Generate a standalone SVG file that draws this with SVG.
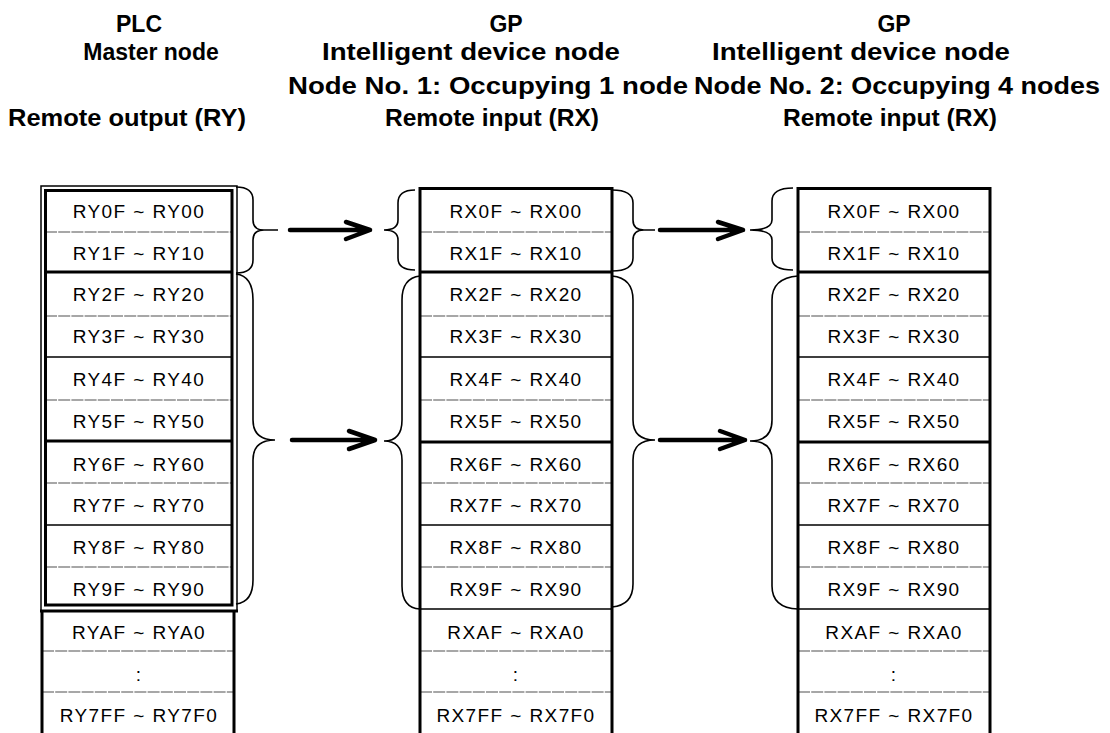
<svg xmlns="http://www.w3.org/2000/svg" width="1110" height="733" viewBox="0 0 1110 733">
<defs>
<style>
.t{font-family:"Liberation Sans",Arial,sans-serif;font-size:19px;letter-spacing:1.4px;text-anchor:middle;fill:#000}
.h{font-family:"Liberation Sans",Arial,sans-serif;font-size:23px;font-weight:bold;text-anchor:middle;fill:#000}
.thick{stroke:#000;stroke-width:3;fill:none}
.thin{stroke:#000;stroke-width:1.5;fill:none}
.dot{stroke:#8a8a8a;stroke-width:1.6;stroke-dasharray:12 1.2;fill:none}
.br{stroke:#000;stroke-width:1.6;fill:none}
.ar{stroke:#000;stroke-width:4.5;fill:none;stroke-linecap:round;stroke-linejoin:round}
</style>
</defs>
<rect width="1110" height="733" fill="#fff"/>

<g id="titles">
<text class="h" x="139" y="32">PLC</text>
<text class="h" x="151" y="60">Master node</text>
<text class="h" x="127" y="126" textLength="238" lengthAdjust="spacingAndGlyphs">Remote output (RY)</text>
<text class="h" x="506" y="32">GP</text>
<text class="h" x="471" y="60" textLength="298" lengthAdjust="spacingAndGlyphs">Intelligent device node</text>
<text class="h" x="488" y="94" textLength="400" lengthAdjust="spacingAndGlyphs">Node No. 1: Occupying 1 node</text>
<text class="h" x="492" y="126" textLength="214" lengthAdjust="spacingAndGlyphs">Remote input (RX)</text>
<text class="h" x="894" y="32">GP</text>
<text class="h" x="861" y="60" textLength="298" lengthAdjust="spacingAndGlyphs">Intelligent device node</text>
<text class="h" x="897" y="94" textLength="406" lengthAdjust="spacingAndGlyphs">Node No. 2: Occupying 4 nodes</text>
<text class="h" x="890" y="126" textLength="214" lengthAdjust="spacingAndGlyphs">Remote input (RX)</text>
</g>

<g id="plc-table">
<path class="dot" d="M45 232H232M45 316H232M45 400H232M45 483H232M45 567H232M42 651H234M42 692H234"/>
<path class="thick" d="M45 272H232M45 441H232"/>
<path class="thin" d="M45 357H232M45 525H232"/>
<rect class="thin" x="41" y="186" width="196" height="425"/>
<rect class="thick" x="45.5" y="190.5" width="186.5" height="414.5"/>
<path class="thick" d="M40 611H238M42 611V733M234 611V733"/>
<text class="t" x="139" y="218">RY0F ~ RY00</text>
<text class="t" x="139" y="260">RY1F ~ RY10</text>
<text class="t" x="139" y="301">RY2F ~ RY20</text>
<text class="t" x="139" y="343">RY3F ~ RY30</text>
<text class="t" x="139" y="386">RY4F ~ RY40</text>
<text class="t" x="139" y="428">RY5F ~ RY50</text>
<text class="t" x="139" y="471">RY6F ~ RY60</text>
<text class="t" x="139" y="512">RY7F ~ RY70</text>
<text class="t" x="139" y="554">RY8F ~ RY80</text>
<text class="t" x="139" y="596">RY9F ~ RY90</text>
<text class="t" x="139" y="639">RYAF ~ RYA0</text>
<text class="t" x="139" y="681">:</text>
<text class="t" x="139" y="722">RY7FF ~ RY7F0</text>
</g>

<g id="gp1-table">
<path class="dot" d="M420 232H612M420 316H612M420 400H612M420 483H612M420 567H612M420 651H612M420 692H612"/>
<path class="thick" d="M420 272H612M420 442H612"/>
<path class="thin" d="M420 357H612M420 525H612M420 609H612"/>
<path class="thick" d="M420 733V188.5H612V733"/>
<text class="t" x="516" y="218">RX0F ~ RX00</text>
<text class="t" x="516" y="260">RX1F ~ RX10</text>
<text class="t" x="516" y="301">RX2F ~ RX20</text>
<text class="t" x="516" y="343">RX3F ~ RX30</text>
<text class="t" x="516" y="386">RX4F ~ RX40</text>
<text class="t" x="516" y="428">RX5F ~ RX50</text>
<text class="t" x="516" y="471">RX6F ~ RX60</text>
<text class="t" x="516" y="512">RX7F ~ RX70</text>
<text class="t" x="516" y="554">RX8F ~ RX80</text>
<text class="t" x="516" y="596">RX9F ~ RX90</text>
<text class="t" x="516" y="639">RXAF ~ RXA0</text>
<text class="t" x="516" y="681">:</text>
<text class="t" x="516" y="722">RX7FF ~ RX7F0</text>
</g>

<g id="gp2-table">
<path class="dot" d="M798 232H990M798 316H990M798 400H990M798 483H990M798 567H990M798 651H990M798 692H990"/>
<path class="thick" d="M798 272H990M798 442H990"/>
<path class="thin" d="M798 357H990M798 525H990M798 609H990"/>
<path class="thick" d="M798 733V188.5H990V733"/>
<text class="t" x="894" y="218">RX0F ~ RX00</text>
<text class="t" x="894" y="260">RX1F ~ RX10</text>
<text class="t" x="894" y="301">RX2F ~ RX20</text>
<text class="t" x="894" y="343">RX3F ~ RX30</text>
<text class="t" x="894" y="386">RX4F ~ RX40</text>
<text class="t" x="894" y="428">RX5F ~ RX50</text>
<text class="t" x="894" y="471">RX6F ~ RX60</text>
<text class="t" x="894" y="512">RX7F ~ RX70</text>
<text class="t" x="894" y="554">RX8F ~ RX80</text>
<text class="t" x="894" y="596">RX9F ~ RX90</text>
<text class="t" x="894" y="639">RXAF ~ RXA0</text>
<text class="t" x="894" y="681">:</text>
<text class="t" x="894" y="722">RX7FF ~ RX7F0</text>
</g>

<g id="connectors">
<path class="br" d="M236 187Q253 187 253 200V220Q253 230 264 230H278M236 273Q253 273 253 260V240Q253 230 264 230"/>
<path class="br" d="M236 274Q253 276 253 300V420Q253 440 275 440M236 604Q253 602 253 580V460Q253 440 275 440"/>
<path class="br" d="M415 190Q398 190 398 203V220Q398 230 384 230Q398 230 398 240V258Q398 270 415 270"/>
<path class="br" d="M420 276Q402 278 402 300V420Q402 441 384 441Q402 441 402 460V586Q402 608 420 609"/>
<path class="br" d="M612 190Q633 190 633 203V220Q633 230 644 230H655M612 271Q633 271 633 258V240Q633 230 644 230"/>
<path class="br" d="M612 276Q633 278 633 300V420Q633 440 655 440M612 607Q633 605 633 584V460Q633 440 655 440"/>
<path class="br" d="M793 188Q772 188 772 201V220Q772 230 750 230Q772 230 772 240V258Q772 270 793 270"/>
<path class="br" d="M798 276Q772 278 772 300V420Q772 441 750 441Q772 441 772 460V586Q772 608 798 609"/>
<path class="ar" d="M290 230H370M346 222L370 230L346 239"/>
<path class="ar" d="M292 440H375M349 431L375 440L349 449"/>
<path class="ar" d="M660 230H743M718 222L743 230L718 239"/>
<path class="ar" d="M660 440H745M720 431L745 440L720 449"/>
</g>
</svg>
